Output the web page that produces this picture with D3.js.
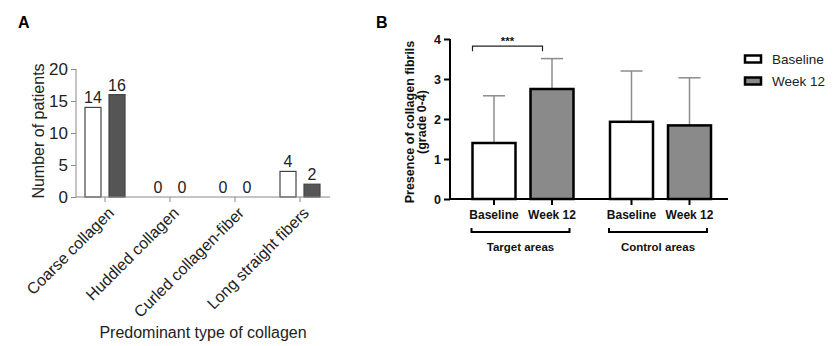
<!DOCTYPE html>
<html><head><meta charset="utf-8">
<script src="https://cdn.jsdelivr.net/npm/d3@7"></script>
<style>body{margin:0;background:#fff}svg{display:block}text{font-family:"Liberation Sans",Arial,sans-serif}</style>
</head><body>
<svg id="c" width="838" height="346"></svg>
<script>
// Panel A data
const catsA = ["Coarse collagen","Huddled collagen","Curled collagen-fiber","Long straight fibers"];
const seriesA = ["Baseline","Week 12"];
const baselineA = [14,0,0,4];
const week12A = [16,0,0,2];
const ticksA = [0,5,10,15,20];
// Panel B data
const groupsB = ["Target areas","Control areas"];
const seriesB = ["Baseline","Week 12"];
const meanBaselineB = [1.4,1.93];
const meanWeek12B = [2.75,1.84];
const sdTopBaselineB = [2.58,3.2];
const sdTopWeek12B = [3.51,3.03];
const ticksB = [0,1,2,3,4];

const svg = d3.select("#c");
const fillA = {"Baseline":"#ffffff","Week 12":"#555555"};
const fillB = {"Baseline":"#ffffff","Week 12":"#8a8a8a"};

// ---------- Panel A ----------
const gA = svg.append("g");
gA.append("text").attr("x",18).attr("y",28).attr("font-size",16).attr("font-weight","bold").text("A");
const xA = d3.scaleBand().domain(catsA).range([72.5,332.5]).paddingInner(0);
const xsA = d3.scaleBand().domain(seriesA).range([12.5,52.5]).paddingInner(1/3).paddingOuter(0);
const yA = d3.scaleLinear().domain([0,20]).range([197,69]);
const dataA = catsA.flatMap((c,i)=>[{c,s:"Baseline",v:baselineA[i]},{c,s:"Week 12",v:week12A[i]}]);

gA.selectAll("rect.bar").data(dataA.filter(d=>d.v>0)).join("rect")
  .attr("x",d=>xA(d.c)+xsA(d.s)).attr("width",xsA.bandwidth())
  .attr("y",d=>yA(d.v)).attr("height",d=>yA(0)-yA(d.v))
  .attr("fill",d=>fillA[d.s]).attr("stroke","#444").attr("stroke-width",1.2);
gA.selectAll("text.val").data(dataA).join("text")
  .attr("x",d=>xA(d.c)+xsA(d.s)+xsA.bandwidth()/2).attr("y",d=>yA(d.v)-4)
  .attr("text-anchor","middle").attr("font-size",16).attr("fill","#222").text(d=>d.v);

const yAxA = gA.append("g").attr("transform","translate(76,0)")
  .call(d3.axisLeft(yA).tickValues(ticksA).tickSize(5).tickPadding(3));
yAxA.select(".domain").attr("stroke","#888").attr("d","M0,"+yA(20)+"V"+yA(0));
yAxA.selectAll(".tick line").attr("stroke","#888");
yAxA.selectAll("text").attr("font-size",17).attr("fill","#222").attr("font-family","Liberation Sans,Arial,sans-serif");

const xAxA = gA.append("g").attr("transform","translate(0,"+yA(0)+")")
  .call(d3.axisBottom(xA).tickSize(5).tickFormat(""));
xAxA.select(".domain").attr("stroke","#888").attr("d","M76,0H330");
xAxA.selectAll(".tick line").attr("stroke","#888");
gA.selectAll("text.cat").data(catsA).join("text")
  .attr("transform",d=>"translate("+(xA(d)+xA.bandwidth()/2+10)+",214) rotate(-45)")
  .attr("text-anchor","end").attr("font-size",16).attr("fill","#222").text(d=>d);
gA.append("text").attr("transform","translate(44,131) rotate(-90)").attr("text-anchor","middle")
  .attr("font-size",16).attr("fill","#222").text("Number of patients");
gA.append("text").attr("x",203).attr("y",338).attr("text-anchor","middle")
  .attr("font-size",16).attr("fill","#222").text("Predominant type of collagen");

// ---------- Panel B ----------
const gB = svg.append("g");
gB.append("text").attr("x",376).attr("y",28).attr("font-size",16).attr("font-weight","bold").text("B");
const xB = d3.scaleBand().domain(groupsB).range([454.25,729.25]).paddingInner(0);
const xsB = d3.scaleBand().domain(seriesB).range([18.25,119.25]).paddingInner(15/58).paddingOuter(0);
const yB = d3.scaleLinear().domain([0,4]).range([199,39]);
const dataB = groupsB.flatMap((g,i)=>[
  {g,s:"Baseline",v:meanBaselineB[i],e:sdTopBaselineB[i]},
  {g,s:"Week 12",v:meanWeek12B[i],e:sdTopWeek12B[i]}]);
const cx = d=>xB(d.g)+xsB(d.s)+xsB.bandwidth()/2;

// error bars
gB.selectAll("line.err").data(dataB).join("line")
  .attr("x1",cx).attr("x2",cx).attr("y1",d=>yB(d.v)).attr("y2",d=>yB(d.e))
  .attr("stroke","#8c8c8c").attr("stroke-width",1.5);
gB.selectAll("line.cap").data(dataB).join("line")
  .attr("x1",d=>cx(d)-11).attr("x2",d=>cx(d)+11).attr("y1",d=>yB(d.e)).attr("y2",d=>yB(d.e))
  .attr("stroke","#8c8c8c").attr("stroke-width",1.5);
gB.selectAll("rect.bar").data(dataB).join("rect")
  .attr("x",d=>xB(d.g)+xsB(d.s)).attr("width",xsB.bandwidth())
  .attr("y",d=>yB(d.v)).attr("height",d=>yB(0)-yB(d.v))
  .attr("fill",d=>fillB[d.s]).attr("stroke","#000").attr("stroke-width",2.5);

const yAxB = gB.append("g").attr("transform","translate(450,0)")
  .call(d3.axisLeft(yB).tickValues(ticksB).tickFormat(d3.format("d")).tickSize(6).tickPadding(3));
yAxB.select(".domain").attr("stroke","#000").attr("stroke-width",2).attr("d","M0,"+yB(4)+"V"+yB(0));
yAxB.selectAll(".tick line").attr("stroke","#000").attr("stroke-width",2);
yAxB.selectAll("text").attr("font-size",12.5).attr("font-weight","bold").attr("fill","#111").attr("font-family","Liberation Sans,Arial,sans-serif");

gB.append("line").attr("x1",449).attr("x2",728).attr("y1",yB(0)).attr("y2",yB(0)).attr("stroke","#000").attr("stroke-width",2);
gB.selectAll("line.xt").data(dataB).join("line")
  .attr("x1",cx).attr("x2",cx).attr("y1",yB(0)).attr("y2",yB(0)+6).attr("stroke","#000").attr("stroke-width",2);
gB.selectAll("text.xl").data(dataB).join("text")
  .attr("x",cx).attr("y",219).attr("text-anchor","middle").attr("font-size",12).attr("font-weight","bold")
  .attr("fill","#111").text(d=>d.s);

// group brackets
groupsB.forEach(g=>{
  const x1 = xB(g)+xsB("Baseline")-1, x2 = xB(g)+xsB("Week 12")+xsB.bandwidth()-4;
  gB.append("path").attr("d","M"+x1+",228V232H"+x2+"V228").attr("fill","none").attr("stroke","#000").attr("stroke-width",2);
  gB.append("text").attr("x",(x1+x2)/2).attr("y",251).attr("text-anchor","middle").attr("font-size",11.5)
    .attr("font-weight","bold").attr("fill","#111").text(g);
});

// significance bracket
{
  const x1 = xB("Target areas")+xsB("Baseline"), x2 = xB("Target areas")+xsB("Week 12")+12;
  const y = yB(3.82);
  gB.append("path").attr("d","M"+x1+","+(y+5)+"V"+y+"H"+x2+"V"+(y+5)).attr("fill","none").attr("stroke","#222").attr("stroke-width",1.2);
  gB.append("text").attr("x",(x1+x2)/2).attr("y",y-1).attr("text-anchor","middle").attr("font-size",11.5)
    .attr("font-weight","bold").attr("fill","#111").text("***");
}

gB.append("text").attr("transform","translate(414,122) rotate(-90)").attr("text-anchor","middle")
  .attr("font-size",12.5).attr("font-weight","bold").attr("fill","#111").text("Presence of collagen fibrils");
gB.append("text").attr("transform","translate(426,122) rotate(-90)").attr("text-anchor","middle")
  .attr("font-size",12.5).attr("font-weight","bold").attr("fill","#111").text("(grade 0-4)");

// legend
const leg = gB.selectAll("g.leg").data(seriesB).join("g").attr("transform",(d,i)=>"translate(745,"+(59+i*22)+")");
leg.append("rect").attr("x",0).attr("y",-3.5).attr("width",16).attr("height",7)
  .attr("fill",d=>fillB[d]).attr("stroke","#000").attr("stroke-width",2.5);
leg.append("text").attr("x",27).attr("y",0).attr("dy","0.35em").attr("font-size",13.5).attr("fill","#222").text(d=>d);
</script>
</body></html>
